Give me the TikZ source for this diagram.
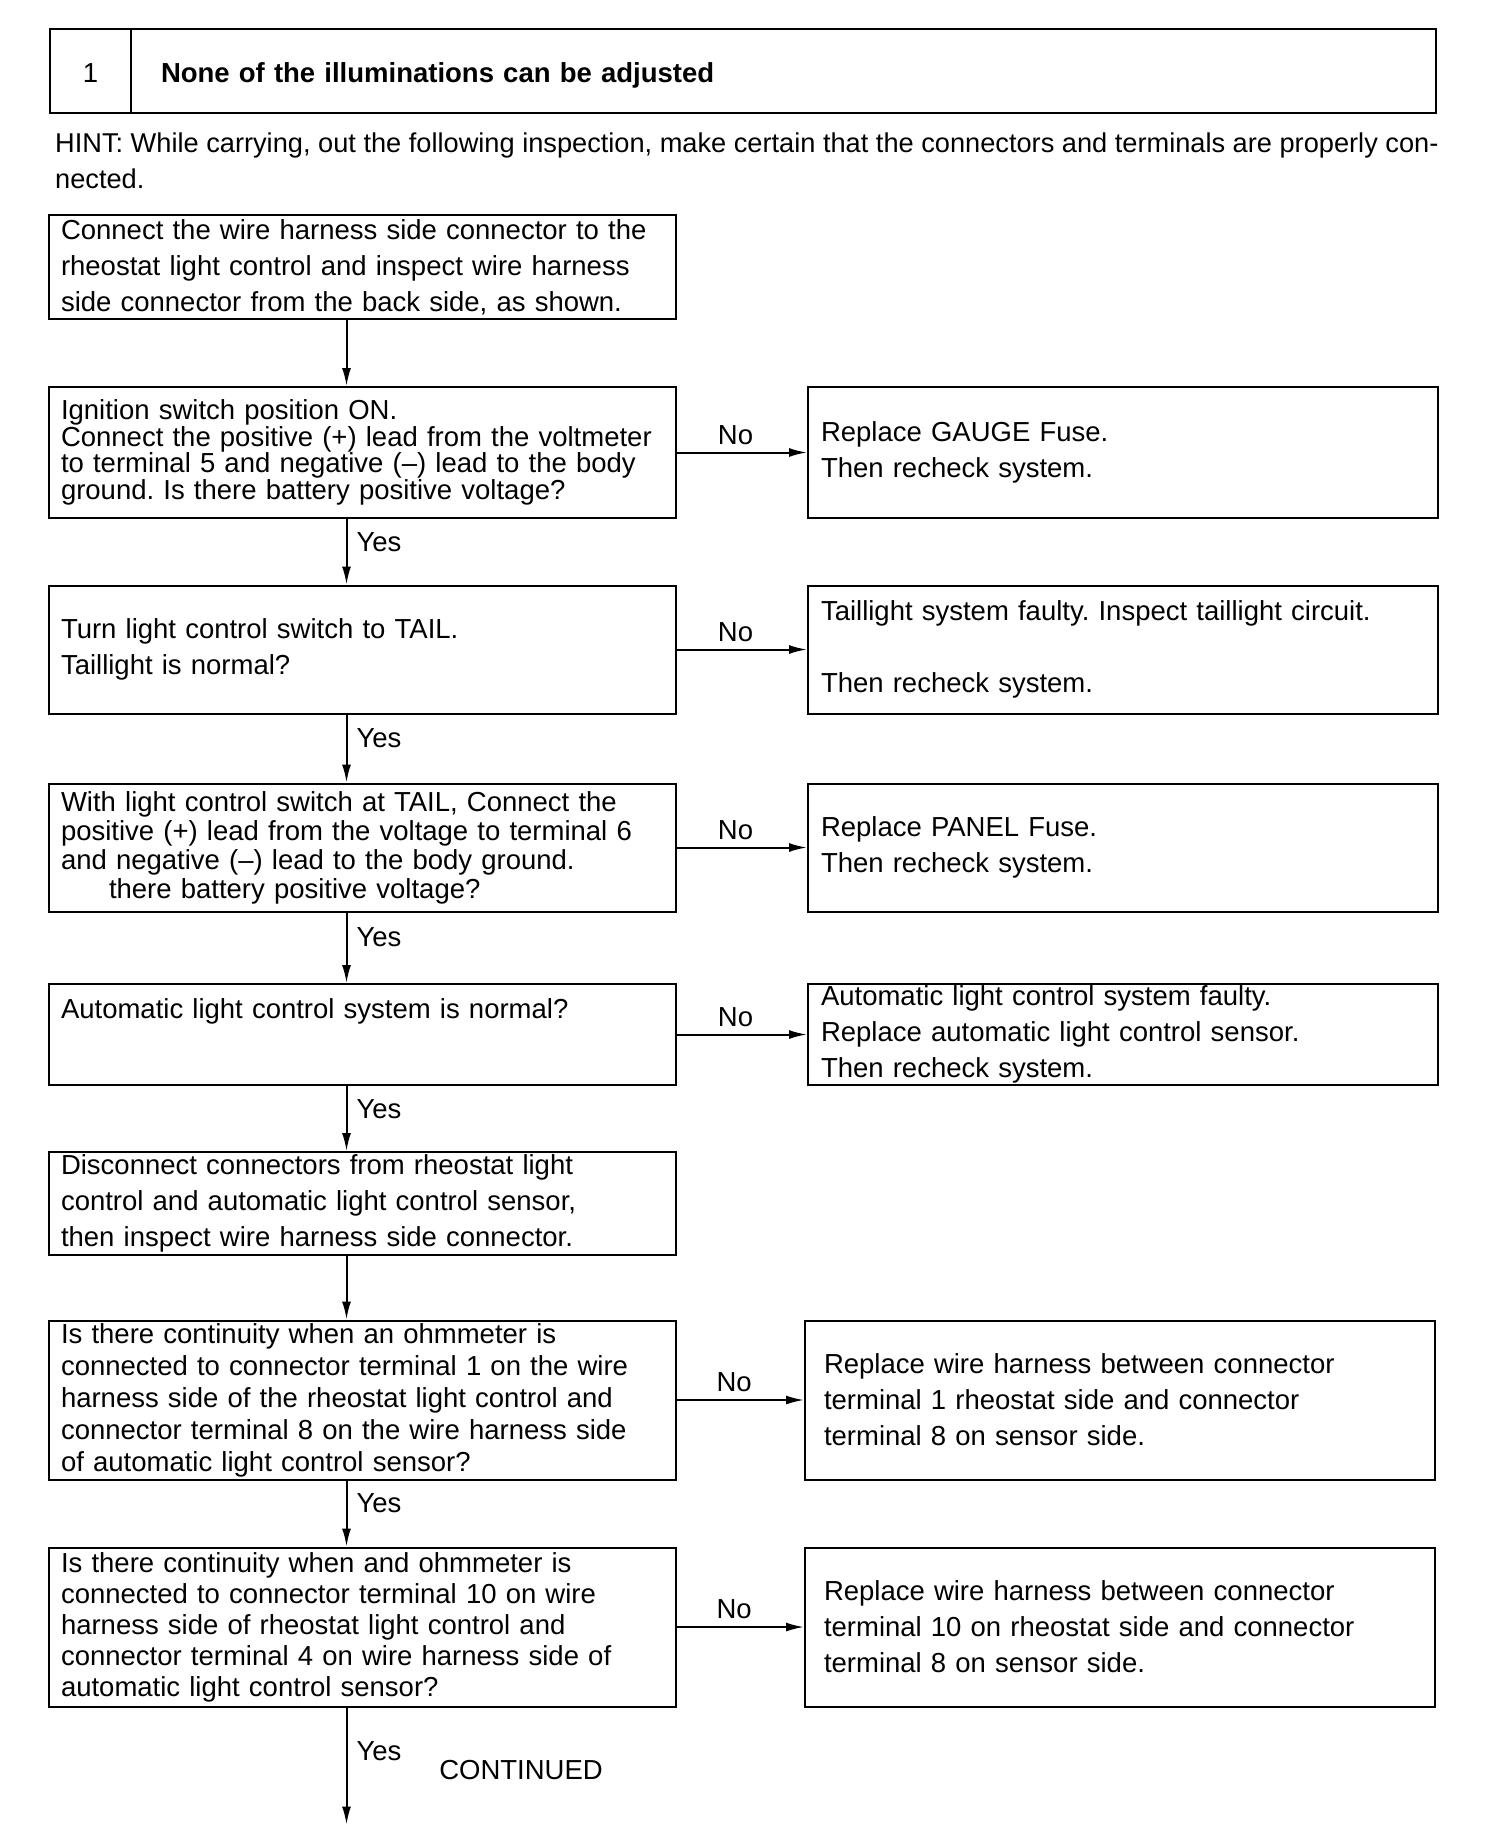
\documentclass[tikz,border=0pt]{standalone}
\usepackage{fontspec}
\setmainfont{Liberation Sans}
\usetikzlibrary{positioning,arrows.meta}
\lineskiplimit=-100pt
\frenchspacing

\begin{document}
\begin{tikzpicture}[x=1pt,y=-1pt,font=\fontsize{27.5}{36}\selectfont,>={Latex[length=18pt,width=9pt]},
  hdr/.style={draw,line width=2.4pt,minimum height=84pt,inner sep=0pt,outer sep=0pt,text height=30pt,text depth=6pt},
  chk/.style={draw,line width=2pt,align=left,text width=603pt,inner xsep=12pt,inner ysep=0pt},
  fix/.style={draw,line width=2pt,align=left,text width=604pt,inner xsep=13pt,inner ysep=0pt},
  yeslbl/.style={right,inner xsep=9pt,pos=0.35},
  nolbl/.style={above,inner ysep=7pt,pos=0.45}]
  \useasboundingbox (0,0) rectangle (1504,1830);
  \node[hdr,minimum width=81pt] (num) at (90.5,71) {1};
  \node[hdr,minimum width=1305pt,right=0pt of num,inner xsep=30pt,text width=1245pt,align=left] (title) {\bfseries None of the illuminations can be adjusted};
  \node[anchor=north west,inner sep=0pt,align=left,font=\fontsize{27.2}{36}\selectfont] (hint) at (55,133) {HINT: While carrying, out the following inspection, make certain that the connectors and terminals are properly con-\\nected.};
  % main line of checks
  \node[chk,minimum height=104pt] (conn) at (362.5,267) {Connect the wire harness side connector to the\\rheostat light control and inspect wire harness\\side connector from the back side, as shown.};
  \node[chk,minimum height=131pt,below=66pt of conn,font=\fontsize{27.5}{26.5}\selectfont] (ign) {Ignition switch position ON.\\Connect the positive (+) lead from the voltmeter\\to terminal 5 and negative (–) lead to the body\\ground. Is there battery positive voltage?};
  \node[chk,minimum height=128pt,below=65.5pt of ign] (tail) {Turn light control switch to TAIL.\\Taillight is normal?};
  \node[chk,minimum height=128pt,below=68pt of tail,font=\fontsize{27.5}{29}\selectfont] (panel) {With light control switch at TAIL, Connect the\\positive (+) lead from the voltage to terminal 6\\and negative (–) lead to the body ground.\\\hspace*{48pt}there battery positive voltage?};
  \node[chk,minimum height=101pt,below=70.5pt of panel] (auto) {Automatic light control system is normal?\\[15pt]\mbox{}};
  \node[chk,minimum height=103pt,below=65pt of auto] (disc) {Disconnect connectors from rheostat light\\control and automatic light control sensor,\\then inspect wire harness side connector.};
  \node[chk,minimum height=159pt,below=63.5pt of disc,font=\fontsize{27.5}{32}\selectfont] (cont1) {Is there continuity when an ohmmeter is\\connected to connector terminal 1 on the wire\\harness side of the rheostat light control and\\connector terminal 8 on the wire harness side\\of automatic light control sensor?};
  \node[chk,minimum height=159pt,below=66pt of cont1,font=\fontsize{27.5}{31}\selectfont] (cont10) {Is there continuity when and ohmmeter is\\connected to connector terminal 10 on wire\\harness side of rheostat light control and\\connector terminal 4 on wire harness side of\\automatic light control sensor?};
  \coordinate[below=117pt of cont10.south,xshift=-16pt] (more);
  \node (contd) at (521,1770) {CONTINUED};
  % repairs on the right
  \node[fix,minimum height=131pt,right=130pt of ign] (gauge) {Replace GAUGE Fuse.\\Then recheck system.};
  \node[fix,minimum height=128pt,right=130pt of tail] (tlfault) {Taillight system faulty. Inspect taillight circuit.\\[36pt]Then recheck system.};
  \node[fix,minimum height=128pt,right=130pt of panel] (pfuse) {Replace PANEL Fuse.\\Then recheck system.};
  \node[fix,minimum height=101pt,right=130pt of auto] (sensor) {Automatic light control system faulty.\\Replace automatic light control sensor.\\Then recheck system.};
  \node[fix,minimum height=159pt,right=127pt of cont1,inner xsep=19pt,text width=592pt] (harn1) {Replace wire harness between connector\\terminal 1 rheostat side and connector\\terminal 8 on sensor side.};
  \node[fix,minimum height=159pt,right=127pt of cont10,inner xsep=19pt,text width=592pt] (harn10) {Replace wire harness between connector\\terminal 10 on rheostat side and connector\\terminal 8 on sensor side.};
  % arrows
  \draw[->,line width=2pt] ([xshift=-16pt]conn.south) -- ([xshift=-16pt]ign.north);
  \draw[->,line width=2pt] ([xshift=-16pt]ign.south) -- node[yeslbl]{Yes} ([xshift=-16pt]tail.north);
  \draw[->,line width=2pt] ([xshift=-16pt]tail.south) -- node[yeslbl]{Yes} ([xshift=-16pt]panel.north);
  \draw[->,line width=2pt] ([xshift=-16pt]panel.south) -- node[yeslbl]{Yes} ([xshift=-16pt]auto.north);
  \draw[->,line width=2pt] ([xshift=-16pt]auto.south) -- node[yeslbl]{Yes} ([xshift=-16pt]disc.north);
  \draw[->,line width=2pt] ([xshift=-16pt]disc.south) -- ([xshift=-16pt]cont1.north);
  \draw[->,line width=2pt] ([xshift=-16pt]cont1.south) -- node[yeslbl]{Yes} ([xshift=-16pt]cont10.north);
  \draw[->,line width=2pt] ([xshift=-16pt]cont10.south) -- node[yeslbl,pos=0.37]{Yes} (more);
  \draw[->,line width=2pt] (ign) -- node[nolbl]{No} (gauge);
  \draw[->,line width=2pt] (tail) -- node[nolbl]{No} (tlfault);
  \draw[->,line width=2pt] (panel) -- node[nolbl]{No} (pfuse);
  \draw[->,line width=2pt] (auto) -- node[nolbl]{No} (sensor);
  \draw[->,line width=2pt] (cont1) -- node[nolbl]{No} (harn1);
  \draw[->,line width=2pt] (cont10) -- node[nolbl]{No} (harn10);
\end{tikzpicture}
\end{document}
